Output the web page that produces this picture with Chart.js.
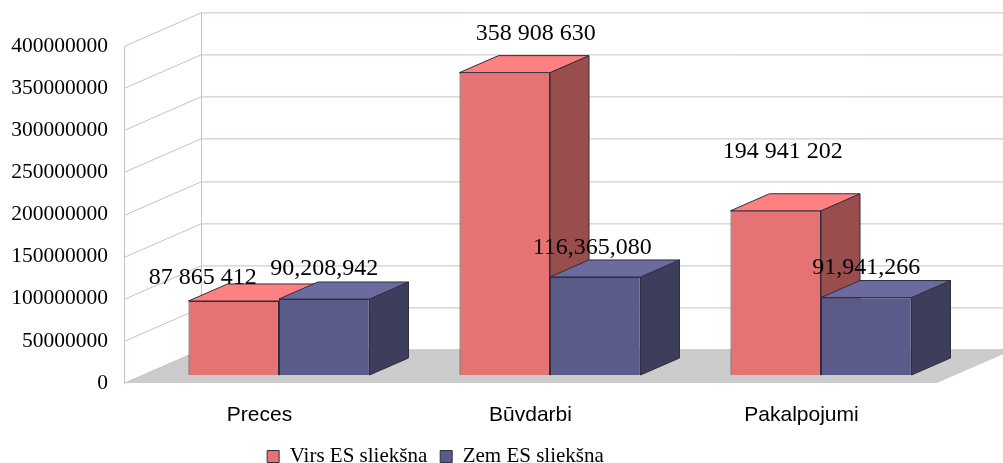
<!DOCTYPE html>
<html>
<head>
<meta charset="utf-8">
<title>Virs un zem ES sliekšna</title>
<script src="https://cdn.jsdelivr.net/npm/chart.js@4"></script>
<style>
  html, body { margin: 0; padding: 0; background: #fff; }
  #box { position: relative; width: 1003px; height: 463px; }
</style>
</head>
<body>
<div id="box"><canvas id="chart"></canvas></div>
<script>
const categories = ["Preces", "Būvdarbi", "Pakalpojumi"]
const seriesNames = ["Virs ES sliekšna", "Zem ES sliekšna"]
const virsValues = [87865412, 358908630, 194941202]
const zemValues = [90208942, 116365080, 91941266]
const virsLabels = ["87 865 412", "358 908 630", "194 941 202"]
const zemLabels = ["90,208,942", "116,365,080", "91,941,266"]

// where each value label sits relative to the top of its bar
const virsLabelOffsets = [[-31, -23], [31, -39], [7, -59]]
const zemLabelOffsets = [[0, -30], [-3, -29], [0, -30]]

const serif = "'Liberation Serif', 'Times New Roman', serif"
const sans = "'Liberation Sans', Arial, sans-serif"

// fake 3D: full depth of the box, bars sit part way in
const wallDepth = [77, -33.6]
const barShift = [19.5, -8]
const barDepth = [39, -17]
const faces = [
  { top: "#FF8080", side: "#994D4D" },
  { top: "#6B6B9F", side: "#3D3D5C" },
]
const gridColor = "#c9c2bf"
const edgeColor = "#2f2f3f"

function poly(ctx, pts, fill, stroke) {
  ctx.beginPath()
  pts.forEach((p, i) => (i ? ctx.lineTo(p[0], p[1]) : ctx.moveTo(p[0], p[1])))
  ctx.closePath()
  ctx.fillStyle = fill
  ctx.fill()
  ctx.strokeStyle = stroke
  ctx.lineWidth = 1
  ctx.stroke()
}

const box3d = {
  id: "box3d",
  afterLayout(chart) {
    // legend in the original is centred under the plot, not the page
    chart.legend.left -= 33
    chart.legend.right -= 33
    chart.legend.top -= 2
    chart.legend.bottom -= 2
  },
  beforeDatasetsDraw(chart) {
    const { ctx, scales } = chart
    const area = chart.chartArea
    const [dx, dy] = wallDepth
    ctx.save()

    // floor
    const y0 = scales.y.getPixelForValue(0)
    ctx.fillStyle = "#cccccc"
    ctx.beginPath()
    ctx.moveTo(area.left, y0)
    ctx.lineTo(area.right, y0)
    ctx.lineTo(area.right + dx, y0 + dy)
    ctx.lineTo(area.left + dx, y0 + dy)
    ctx.closePath()
    ctx.fill()

    // walls and grid
    ctx.strokeStyle = gridColor
    ctx.lineWidth = 1
    ctx.beginPath()
    scales.y.ticks.forEach((t) => {
      const y = Math.round(scales.y.getPixelForValue(t.value)) + 0.5
      ctx.moveTo(area.left, y)
      ctx.lineTo(area.left + dx, y + dy)
      ctx.lineTo(area.right + dx, y + dy)
    })
    ctx.moveTo(area.left + 0.5, area.top)
    ctx.lineTo(area.left + 0.5, y0)
    ctx.moveTo(area.left + dx + 0.5, area.top + dy)
    ctx.lineTo(area.left + dx + 0.5, y0 + dy)
    ctx.stroke()

    // side and top faces, front faces come from the bars themselves
    ctx.translate(barShift[0], barShift[1])
    const [bx, by] = barDepth
    categories.forEach((c, i) => {
      chart.data.datasets.forEach((d, s) => {
        const bar = chart.getDatasetMeta(s).data[i]
        const l = bar.x - bar.width / 2
        const r = bar.x + bar.width / 2
        const t = bar.y
        const b = bar.base
        poly(ctx, [[r, t], [r + bx, t + by], [r + bx, b + by], [r, b]], faces[s].side, edgeColor)
        poly(ctx, [[l, t], [l + bx, t + by], [r + bx, t + by], [r, t]], faces[s].top, edgeColor)
      })
    })
    // leave the shift on for the bar fronts, restored in afterDatasetsDraw
  },
  afterDatasetsDraw(chart) {
    const { ctx } = chart
    ctx.restore()
    ctx.save()
    ctx.fillStyle = "#000"
    ctx.font = "24px " + serif
    ctx.textAlign = "center"
    ctx.textBaseline = "middle"
    const sets = [[virsLabels, virsLabelOffsets], [zemLabels, zemLabelOffsets]]
    sets.forEach(([texts, offs], s) => {
      chart.getDatasetMeta(s).data.forEach((bar, i) => {
        ctx.fillText(texts[i], bar.x + barShift[0] + offs[i][0], bar.y + barShift[1] + offs[i][1])
      })
    })
    ctx.restore()
  },
}

new Chart(document.getElementById("chart"), {
  type: "bar",
  data: {
    labels: categories,
    datasets: [
      { label: seriesNames[0], data: virsValues, backgroundColor: "#E67373", borderColor: edgeColor, borderWidth: 1, clip: false },
      { label: seriesNames[1], data: zemValues, backgroundColor: "#5B5B8A", borderColor: edgeColor, borderWidth: 1, clip: false },
    ],
  },
  options: {
    responsive: true,
    maintainAspectRatio: false,
    animation: false,
    layout: { padding: { top: 46, right: 66, left: 0, bottom: -16 } },
    datasets: { bar: { categoryPercentage: 0.668, barPercentage: 1 } },
    plugins: {
      tooltip: { enabled: false },
      legend: {
        position: "bottom",
        labels: {
          boxWidth: 12,
          boxHeight: 12,
          padding: 13,
          color: "#000",
          font: { family: serif, size: 21 },
        },
      },
    },
    scales: {
      x: {
        grid: { display: false },
        border: { display: false },
        ticks: { color: "#000", padding: 12, font: { family: sans, size: 21 } },
        afterFit(scale) {
          scale.height = 52
        },
      },
      y: {
        min: 0,
        max: 400000000,
        grid: { display: false, drawTicks: false },
        border: { display: false },
        ticks: {
          stepSize: 50000000,
          color: "#000",
          padding: 16,
          font: { family: serif, size: 21.5 },
          callback: (v) => String(v),
        },
        afterFit(scale) {
          scale.width = 124
        },
      },
    },
  },
  plugins: [box3d],
})
</script>
</body>
</html>
